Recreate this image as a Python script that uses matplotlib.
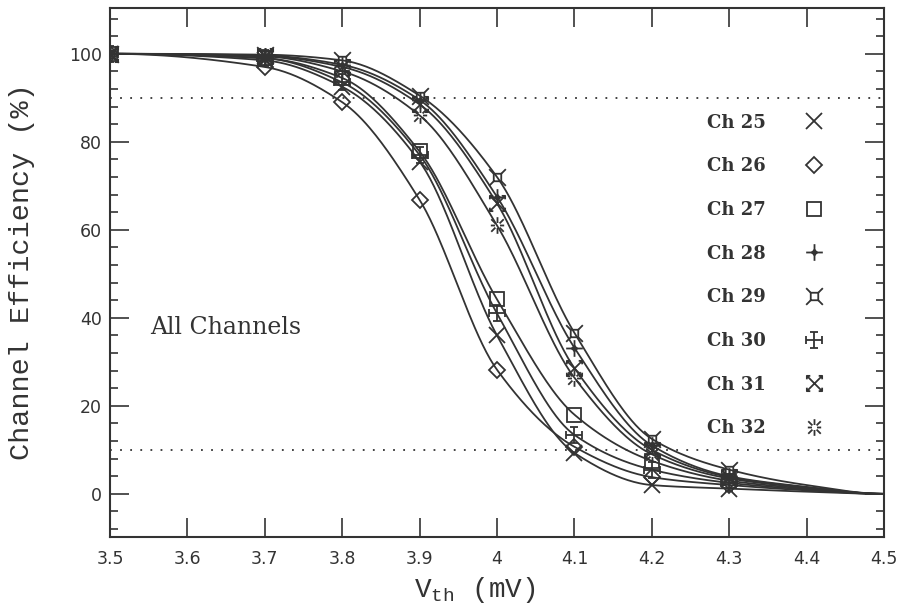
import matplotlib
matplotlib.use("Agg")
import matplotlib.pyplot as plt
import numpy as np
from matplotlib.path import Path
from matplotlib.lines import Line2D
from matplotlib.ticker import MultipleLocator, FuncFormatter

# threshold voltage (mV); the last two points only close the fitted curves
vth = [3.5, 3.7, 3.8, 3.9, 4.0, 4.1, 4.2, 4.3, 4.4, 4.5]
n_meas = 8

channels = ["Ch 25", "Ch 26", "Ch 27", "Ch 28", "Ch 29", "Ch 30", "Ch 31", "Ch 32"]
ch25 = [100, 98.5, 92.5, 75.5, 36.0, 9.3, 2.0, 1.2, 0.5, 0]
ch26 = [100, 97.0, 89.0, 66.8, 28.2, 10.7, 3.8, 2.0, 0.8, 0]
ch27 = [100, 99.0, 94.5, 77.8, 44.2, 18.0, 7.5, 3.0, 1.2, 0]
ch28 = [100, 99.6, 97.5, 89.5, 67.5, 33.2, 11.0, 4.0, 1.6, 0]
ch29 = [100, 99.8, 98.5, 90.5, 72.0, 36.6, 12.5, 5.5, 2.0, 0]
ch30 = [100, 99.0, 93.5, 77.0, 41.0, 13.4, 5.5, 2.5, 1.0, 0]
ch31 = [100, 99.5, 97.0, 88.5, 66.0, 28.6, 10.0, 3.8, 1.5, 0]
ch32 = [100, 99.4, 96.0, 86.0, 61.0, 26.4, 9.0, 3.5, 1.4, 0]
series = [ch25, ch26, ch27, ch28, ch29, ch30, ch31, ch32]


def pchip(x, y, xs):
    x = np.asarray(x, float)
    y = np.asarray(y, float)
    h = np.diff(x)
    d = np.diff(y) / h
    m = np.zeros(len(x))
    for k in range(1, len(x) - 1):
        if d[k - 1] * d[k] > 0:
            w1 = 2 * h[k] + h[k - 1]
            w2 = h[k] + 2 * h[k - 1]
            m[k] = (w1 + w2) / (w1 / d[k - 1] + w2 / d[k])
    idx = np.clip(np.searchsorted(x, xs) - 1, 0, len(x) - 2)
    t = (xs - x[idx]) / h[idx]
    h00 = 2 * t**3 - 3 * t**2 + 1
    h10 = t**3 - 2 * t**2 + t
    h01 = -2 * t**3 + 3 * t**2
    h11 = t**3 - t**2
    return h00 * y[idx] + h10 * h[idx] * m[idx] + h01 * y[idx + 1] + h11 * h[idx] * m[idx + 1]


def make_marker(polylines):
    verts, codes = [], []
    for pl in polylines:
        verts.append(pl[0]); codes.append(Path.MOVETO)
        for p in pl[1:]:
            verts.append(p); codes.append(Path.LINETO)
    return Path(verts, codes)


a = 0.45
m28 = make_marker([[(-1, 0), (1, 0)], [(0, -1), (0, 1)],
                   [(0.3, 0), (0, 0.3), (-0.3, 0), (0, -0.3), (0.3, 0)]])
m29 = make_marker([[(-a, -a), (a, -a), (a, a), (-a, a), (-a, -a)],
                   [(a, a), (1, 1)], [(-a, a), (-1, 1)], [(a, -a), (1, -1)], [(-a, -a), (-1, -1)]])
m30 = make_marker([[(-1, 0), (1, 0)], [(0, -1), (0, 1)],
                   [(-a, 1), (a, 1)], [(-a, -1), (a, -1)], [(1, -a), (1, a)], [(-1, -a), (-1, a)]])
m31 = make_marker([[(-1, -1), (1, 1)], [(-1, 1), (1, -1)],
                   [(0.55, 1), (1, 1), (1, 0.55)], [(-0.55, 1), (-1, 1), (-1, 0.55)],
                   [(0.55, -1), (1, -1), (1, -0.55)], [(-0.55, -1), (-1, -1), (-1, -0.55)]])
r0 = 0.3
m32 = make_marker([[(0, r0), (0, 1)], [(0, -r0), (0, -1)], [(r0, 0), (0.8, 0)], [(-r0, 0), (-0.8, 0)],
                   [(0.25, 0.25), (0.75, 0.75)], [(-0.25, 0.25), (-0.75, 0.75)],
                   [(0.25, -0.25), (0.75, -0.75)], [(-0.25, -0.25), (-0.75, -0.75)]])
markers = ["x", "D", "s", m28, m29, m30, m31, m32]
msizes = [11, 8, 10, 12, 12, 12, 11, 12]

ink = "#333333"
plt.rcParams["mathtext.fontset"] = "custom"
plt.rcParams["mathtext.rm"] = "Liberation Mono"
plt.rcParams["mathtext.it"] = "Liberation Mono"

fig = plt.figure(figsize=(9, 6.13), dpi=100)
ax = fig.add_axes([110 / 900, 76 / 613, 774 / 900, 529 / 613])

xs = np.linspace(3.5, 4.5, 400)
for ys in series:
    ax.plot(xs, pchip(vth, ys, xs), color=ink, lw=1.3)
for ys, mk, ms in zip(series, markers, msizes):
    ax.plot(vth[:n_meas], ys[:n_meas], linestyle="none", marker=mk, ms=ms,
            mfc="none", mec=ink, mew=1.3)

ax.axhline(90, color=ink, lw=1.3, ls=(0, (1, 4.6)))
ax.axhline(10, color=ink, lw=1.3, ls=(0, (1, 4.6)))

ax.set_xlim(3.5, 4.5)
ax.set_ylim(-9.8, 110.4)
ax.xaxis.set_major_locator(MultipleLocator(0.1))
ax.yaxis.set_major_locator(MultipleLocator(20))
ax.yaxis.set_minor_locator(MultipleLocator(4))
ax.xaxis.set_major_formatter(FuncFormatter(lambda v, p: "%g" % round(v, 2)))
ax.tick_params(which="both", direction="in", top=True, right=True, colors=ink,
               labelsize=12.5, width=1.2)
ax.tick_params(which="major", length=14)
ax.tick_params(which="minor", length=5.5)
ax.tick_params(axis="x", pad=9)
ax.tick_params(axis="y", pad=6)
for s in ax.spines.values():
    s.set_color(ink)
    s.set_linewidth(1.5)

ax.text(0.4716, -0.1, r"V$_{\rm th}$ (mV)", transform=ax.transAxes, ha="center", va="center",
        family="Liberation Mono", fontsize=20, color=ink)
fig.text(22 / 900, 1 - 272 / 613, "Channel Efficiency (%)", rotation=90, ha="center", va="center",
         family="Liberation Mono", fontsize=20.5, color=ink)
ax.text(3.552, 37.7, "All Channels", ha="left", va="center", family="DejaVu Serif",
        fontsize=17, color=ink)

handles = [Line2D([], [], linestyle="none", marker=mk, ms=ms, mfc="none", mec=ink, mew=1.3)
           for mk, ms in zip(markers, msizes)]
ax.legend(handles, channels, loc="upper left", bbox_to_anchor=(0.771, 0.80), frameon=False,
          markerfirst=False, borderpad=0, borderaxespad=0, labelspacing=1.42,
          handlelength=1.0, handletextpad=2.2, labelcolor=ink,
          prop={"family": "DejaVu Serif", "weight": "bold", "size": 13})

fig.savefig("out.png", dpi=100)
